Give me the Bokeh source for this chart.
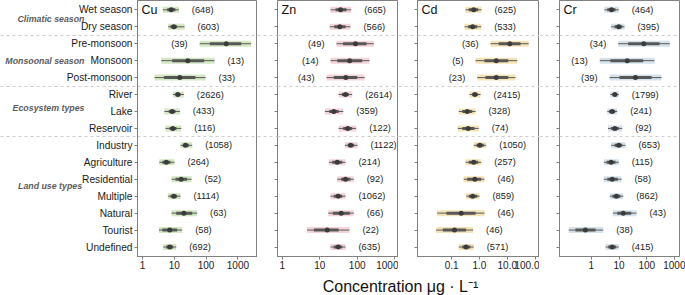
from bokeh.plotting import figure
from bokeh.models import Range1d, FixedTicker, ColumnDataSource, Label, LinearAxis
from bokeh.layouts import row, column
from bokeh.embed import file_html
from bokeh.resources import INLINE
from bokeh.core.properties import value

FONT = "Liberation Sans"

# ---------------- data ----------------
categories = ["Wet season", "Dry season", "Pre-monsoon", "Monsoon", "Post-monsoon",
              "River", "Lake", "Reservoir", "Industry", "Agriculture", "Residential",
              "Multiple", "Natural", "Tourist", "Undefined"]
group_names = ["Climatic season", "Monsoonal season", "Ecosystem types", "Land use  types"]
group_first_last = [(1, 2), (3, 5), (6, 8), (9, 15)]

cu_lo  = [4.35, 6.4, 63, 3.9, 2.4, 9.0, 4.9, 5.3, 15.7, 3.4, 8.2, 6.3, 8.2, 3.3, 4.5]
cu_q1  = [6.0, 7.6, 131, 8.6, 4.7, 10.9, 6.7, 7.1, 18.6, 4.2, 10.9, 7.6, 11.5, 4.2, 5.6]
cu_med = [8.0, 9.7, 430, 26.6, 14.9, 12.9, 8.6, 9.0, 22.5, 5.6, 16.5, 9.7, 20, 7.2, 7.2]
cu_q3  = [10.9, 12.3, 1270, 87, 46, 15.7, 10.9, 11.7, 28.6, 7.6, 25.4, 12.3, 36.5, 12.3, 9.2]
cu_hi  = [13.9, 21, 2600, 183, 96, 20, 14.9, 16.5, 36.5, 10.1, 35, 15.7, 52, 17.7, 11.5]
cu_n   = [648, 603, 39, 13, 33, 2626, 433, 116, 1058, 264, 52, 1114, 63, 58, 692]
cu_left = ["Pre-monsoon"]

zn_lo  = [19.4, 18.6, 28, 19.4, 15.2, 32, 13.7, 32, 47, 17.5, 29.3, 19.4, 16.9, 4.6, 19.4]
zn_q1  = [26.5, 24.4, 42, 29.3, 23.8, 39, 17.9, 42.4, 56, 21.5, 37.4, 23.8, 22.4, 7.0, 23.8]
zn_med = [35.9, 34.4, 90, 63, 49.7, 48.8, 23.8, 56, 67, 29.3, 48.8, 31.1, 37.4, 15.8, 31.1]
zn_q3  = [52, 48.8, 177, 136, 100, 59.7, 32, 73.6, 83, 39.8, 66, 39.8, 63.5, 32, 39.8]
zn_hi  = [69, 66, 277, 213, 157, 73.6, 42.4, 94, 102, 48.8, 81, 48.8, 81, 62, 48.8]
zn_n   = [665, 566, 49, 14, 43, 2614, 359, 122, 1122, 214, 92, 1062, 66, 22, 635]
zn_left = ["Pre-monsoon", "Monsoon", "Post-monsoon"]

cd_lo  = [0.313, 0.29, 2.49, 0.72, 0.83, 0.44, 0.18, 0.166, 0.62, 0.313, 0.27, 0.33, 0.030, 0.0277, 0.18]
cd_q1  = [0.41, 0.39, 4.9, 1.51, 1.64, 0.55, 0.24, 0.24, 0.78, 0.41, 0.36, 0.41, 0.065, 0.048, 0.24]
cd_med = [0.62, 0.57, 12.3, 4.0, 4.0, 0.68, 0.36, 0.39, 1.03, 0.62, 0.68, 0.57, 0.22, 0.126, 0.33]
cd_q3  = [0.90, 0.83, 29.9, 10.8, 10.8, 0.87, 0.55, 0.66, 1.43, 0.90, 1.15, 0.83, 0.72, 0.33, 0.47]
cd_hi  = [1.18, 1.15, 59, 22.7, 19.7, 1.09, 0.72, 0.94, 1.74, 1.15, 1.51, 1.0, 1.51, 0.59, 0.62]
cd_n   = [625, 533, 36, 5, 23, 2415, 328, 74, 1050, 257, 46, 859, 46, 46, 571]
cd_left = ["Pre-monsoon", "Monsoon", "Post-monsoon"]

cr_lo  = [3.0, 5.2, 9.4, 2.04, 4.6, 4.9, 3.8, 4.0, 5.2, 2.84, 2.84, 4.7, 6.0, 0.156, 3.3]
cr_q1  = [3.8, 6.9, 21.4, 4.9, 10.4, 5.8, 4.4, 5.2, 6.9, 3.55, 3.8, 5.8, 8.6, 0.27, 4.1]
cr_med = [5.4, 9.8, 78, 19.7, 39, 7.1, 5.7, 7.1, 9.8, 5.2, 5.7, 8.1, 14.2, 0.62, 5.7]
cr_q3  = [7.5, 13, 286, 74, 148, 8.6, 7.3, 9.8, 13, 7.5, 9.1, 11.3, 27.5, 1.43, 7.9]
cr_hi  = [9.8, 15.8, 672, 189, 338, 9.8, 8.6, 13, 17.1, 9.8, 12.3, 14.2, 42.6, 2.7, 9.8]
cr_n   = [464, 395, 34, 13, 39, 1799, 241, 92, 653, 115, 58, 862, 43, 38, 415]
cr_left = ["Pre-monsoon", "Monsoon", "Post-monsoon"]

common_ticks = [1, 10, 100, 1000]
common_tick_labels = ["1", "10", "100", "1000"]
cd_ticks = [0.1, 1, 10, 100]
cd_tick_labels = ["0.1", "1.0", "10.0", "100.0"]

axis_title = "Concentration μg · L⁻¹"

# ---------------- layout / style constants ----------------
FRAME_H = 256
BOTTOM = 20
FRAME_COL = "#808080"
DASH_COL = "#cdcdcd"
group_label_rows = [1.55, 4.0, 6.8, 11.4]
ROW_TICK = 3
LABEL_GAP = 2
GROUP_STANDOFF = -21

ys = list(range(1, len(categories) + 1))
separators = [last + 0.5 for (_, last) in group_first_last[:-1]]


def make_panel(title, lo, q1, med, q3, hi, n, left_rows, xr, ticks, tick_labels,
               band_color, border_left, frame_w, border_right, first):
    src = ColumnDataSource(dict(y=ys, lo=lo, q1=q1, med=med, q3=q3, hi=hi))
    p = figure(width=border_left + frame_w + border_right, height=FRAME_H + BOTTOM,
               x_axis_type="log", x_range=Range1d(*xr), y_range=Range1d(15.56, 0.45),
               min_border_left=border_left, min_border_right=border_right,
               min_border_top=0, min_border_bottom=BOTTOM,
               output_backend="svg", toolbar_location=None)
    p.outline_line_color = FRAME_COL
    p.background_fill_color = "white"
    p.border_fill_color = "white"

    # x axis
    p.xaxis.ticker = FixedTicker(ticks=ticks)
    p.xaxis.major_label_overrides = dict(zip(ticks, tick_labels))
    p.xaxis.major_tick_in = 0
    p.xaxis.major_tick_out = 3
    p.xaxis.minor_tick_line_color = None
    p.xaxis.axis_line_color = FRAME_COL
    p.xaxis.major_tick_line_color = FRAME_COL
    p.xaxis.major_label_text_font = FONT
    p.xaxis.major_label_text_font_size = "10px"
    p.xaxis.major_label_text_color = "#222222"
    p.xaxis.major_label_standoff = 1

    # y axis (rows as major ticks, group separators as long dashed minor ticks)
    yt = FixedTicker(ticks=ys, minor_ticks=separators)
    p.yaxis.ticker = yt
    p.ygrid.ticker = yt
    if first:
        p.yaxis.major_label_overrides = {y: c for y, c in zip(ys, categories)}
    else:
        p.yaxis.major_label_overrides = {y: "" for y in ys}
    p.yaxis.major_tick_in = 0
    p.yaxis.major_tick_out = ROW_TICK
    p.yaxis.major_tick_line_color = FRAME_COL
    p.yaxis.axis_line_color = FRAME_COL
    p.yaxis.minor_tick_in = 0
    p.yaxis.minor_tick_out = border_left
    p.yaxis.minor_tick_line_color = DASH_COL
    p.yaxis.minor_tick_line_dash = "3 3"
    p.yaxis.major_label_text_font = FONT
    p.yaxis.major_label_text_font_size = "10.2px"
    p.yaxis.major_label_text_color = "#1a1a1a"
    # the tick extent includes the long minor ticks; pull labels back next to the frame
    p.yaxis.major_label_standoff = ROW_TICK + LABEL_GAP - max(border_left, ROW_TICK)

    p.xgrid.visible = False
    p.ygrid.grid_line_color = None
    p.ygrid.minor_grid_line_color = DASH_COL
    p.ygrid.minor_grid_line_dash = "3 3"

    # interval marks
    p.segment(x0="lo", y0="y", x1="hi", y1="y", source=src, line_color=band_color, line_width=6)
    p.segment(x0="lo", y0="y", x1="hi", y1="y", source=src, line_color="#5a5a5a", line_width=1)
    p.segment(x0="q1", y0="y", x1="q3", y1="y", source=src, line_color="#575757", line_width=3)
    p.scatter(x="med", y="y", source=src, size=5, fill_color="#3b3b3b", line_color=None)

    # sample-size labels
    right_idx = [i for i, c in enumerate(categories) if c not in left_rows]
    left_idx = [i for i, c in enumerate(categories) if c in left_rows]
    rsrc = ColumnDataSource(dict(x=[hi[i] for i in right_idx], y=[ys[i] for i in right_idx],
                                 t=["(%d)" % n[i] for i in right_idx]))
    lsrc = ColumnDataSource(dict(x=[lo[i] for i in left_idx], y=[ys[i] for i in left_idx],
                                 t=["(%d)" % n[i] for i in left_idx]))
    txt = dict(text="t", text_baseline="middle", text_font=value(FONT),
               text_font_size=value("9.3px"), text_color="#222222")
    p.text(x="x", y="y", source=rsrc, x_offset=13, text_align="left", **txt)
    p.text(x="x", y="y", source=lsrc, x_offset=-12, text_align="right", **txt)

    # panel title
    p.add_layout(Label(x=4, y=1, x_units="screen", y_units="data", text=title,
                       text_baseline="middle", text_font=FONT, text_font_size="12.5px",
                       text_color="#111111"))

    if first:
        # group names as a second, outer left axis without line or ticks
        gaxis = LinearAxis(ticker=FixedTicker(ticks=group_label_rows),
                           major_label_overrides=dict(zip(group_label_rows, group_names)),
                           axis_line_color=None, major_tick_line_color=None,
                           minor_tick_line_color=None, major_tick_in=0, major_tick_out=0,
                           minor_tick_in=0, minor_tick_out=0,
                           major_label_standoff=GROUP_STANDOFF,
                           major_label_text_font=FONT,
                           major_label_text_font_style="bold italic",
                           major_label_text_font_size="8.8px",
                           major_label_text_color="#5c5c5c")
        p.add_layout(gaxis, "left")
    return p


p1 = make_panel("Cu", cu_lo, cu_q1, cu_med, cu_q3, cu_hi, cu_n, cu_left, (0.697, 4130),
                common_ticks, common_tick_labels, "#d3e7c3", 137, 120, 0, True)
p2 = make_panel("Zn", zn_lo, zn_q1, zn_med, zn_q3, zn_hi, zn_n, zn_left, (0.749, 1262),
                common_ticks, common_tick_labels, "#f4d3d9", 20, 121, 0, False)
p3 = make_panel("Cd", cd_lo, cd_q1, cd_med, cd_q3, cd_hi, cd_n, cd_left, (0.00589, 144),
                cd_ticks, cd_tick_labels, "#f4e3b6", 19, 122, 0, False)
p4 = make_panel("Cr", cr_lo, cr_q1, cr_med, cr_q3, cr_hi, cr_n, cr_left, (0.0724, 1500),
                common_ticks, common_tick_labels, "#d5e2eb", 20, 120, 6, False)

TITLE_H = 295 - (FRAME_H + BOTTOM)
pt = figure(width=685, height=TITLE_H, x_range=Range1d(0, 685), y_range=Range1d(0, TITLE_H),
            min_border=0, x_axis_location=None, y_axis_location=None,
            output_backend="svg", toolbar_location=None)
pt.outline_line_color = None
pt.xgrid.visible = False
pt.ygrid.visible = False
pt.add_layout(Label(x=400, y=TITLE_H / 2.0, x_units="screen", y_units="screen",
                    text=axis_title, text_align="center", text_baseline="middle",
                    text_font=FONT, text_font_size="16px", text_color="#111111"))

layout = column(row(p1, p2, p3, p4), pt)
open("out.html", "w").write(file_html(layout, INLINE))
